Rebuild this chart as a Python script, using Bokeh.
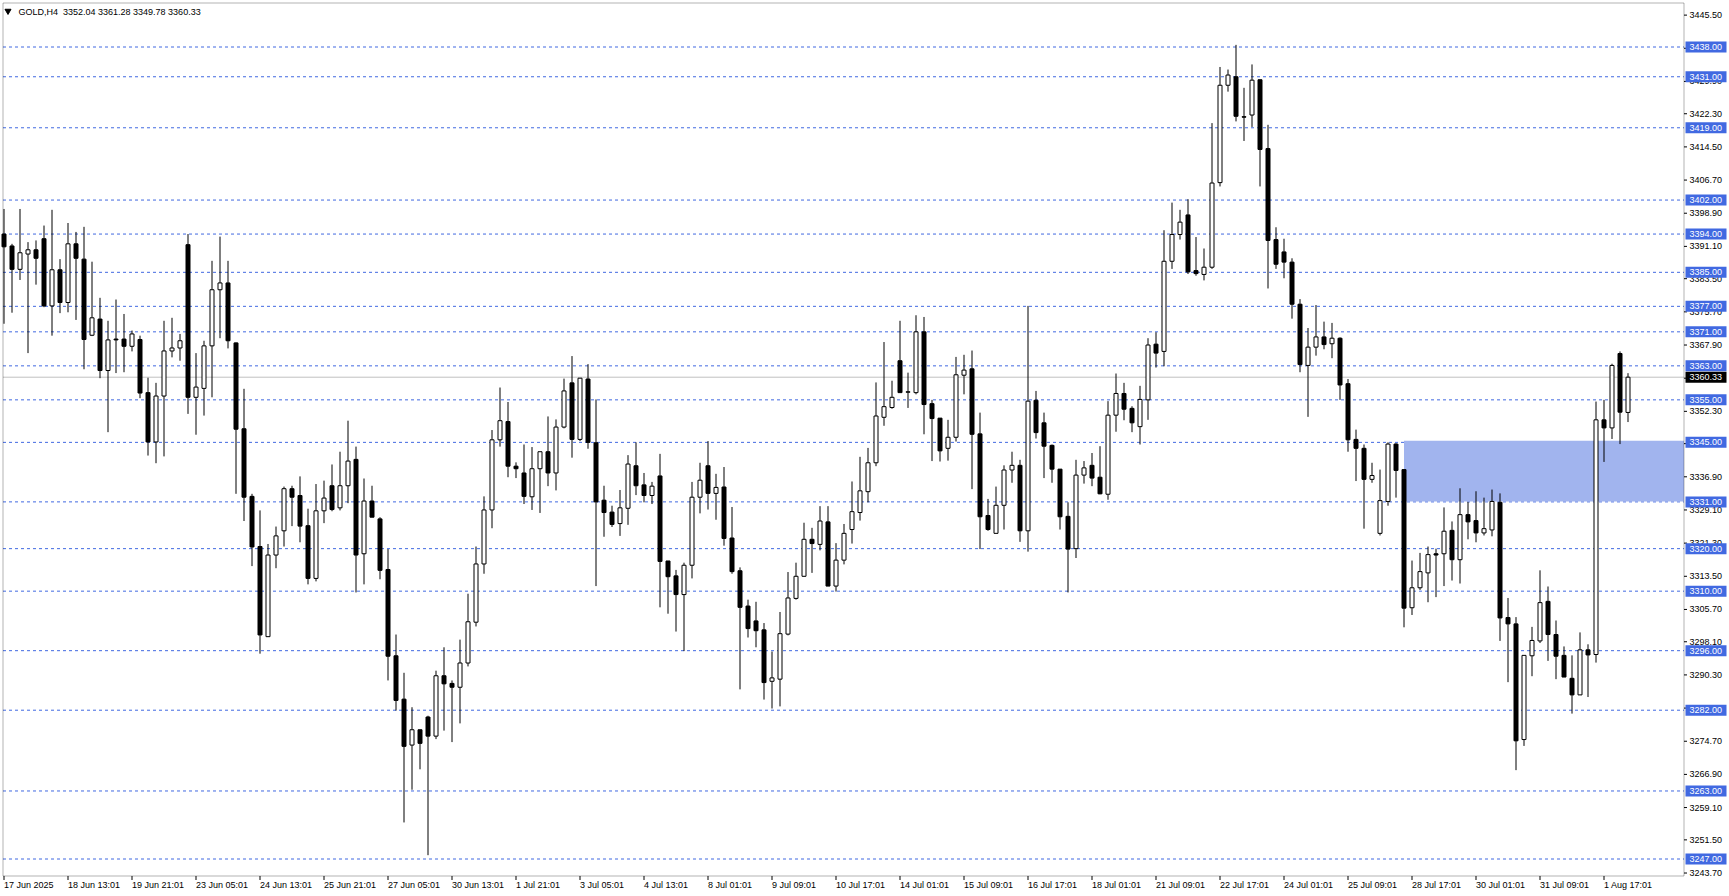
from bokeh.plotting import figure
from bokeh.models import Range1d, BoxAnnotation
from bokeh.core.properties import value
from bokeh.embed import file_html
from bokeh.resources import INLINE

# ---------------- data (GOLD, H4) ----------------
opens = [3394.0, 3391.2, 3385.7, 3389.3, 3390.3, 3392.9, 3377.1, 3385.6, 3377.9, 3391.7,
         3388.1, 3370.2, 3374.0, 3361.9, 3369.3, 3369.3, 3367.6, 3369.2, 3356.7, 3345.1,
         3355.9, 3366.5, 3367.2, 3391.5, 3355.6, 3357.7, 3367.7, 3380.9, 3382.5, 3368.4,
         3348.2, 3332.3, 3320.5, 3299.3, 3318.5, 3324.2, 3334.1, 3332.5, 3325.4, 3313.0,
         3328.9, 3334.8, 3329.6, 3334.8, 3341.0, 3318.8, 3331.2, 3327.0, 3315.1, 3294.8,
         3284.6, 3273.8, 3277.4, 3280.4, 3275.9, 3290.1, 3288.3, 3287.4, 3293.1, 3302.7,
         3316.4, 3329.1, 3345.6, 3349.9, 3339.4, 3337.8, 3332.2, 3338.8, 3342.8, 3337.8,
         3348.6, 3359.0, 3345.7, 3359.9, 3344.9, 3331.4, 3328.6, 3325.9, 3329.5, 3339.5,
         3335.0, 3332.5, 3337.1, 3317.1, 3313.6, 3309.2, 3316.1, 3332.1, 3339.5, 3333.0,
         3334.5, 3322.5, 3314.8, 3306.5, 3303.0, 3300.9, 3288.8, 3289.3, 3299.9, 3308.3,
         3313.5, 3322.2, 3321.0, 3326.3, 3311.2, 3317.3, 3324.5, 3328.5, 3333.4, 3340.2,
         3350.9, 3353.2, 3364.2, 3356.8, 3356.7, 3371.0, 3354.1, 3350.7, 3343.6, 3346.2,
         3360.8, 3362.3, 3347.0, 3327.8, 3323.6, 3330.2, 3338.5, 3339.6, 3324.2, 3354.9,
         3349.6, 3344.3, 3338.7, 3327.6, 3320.0, 3337.3, 3339.6, 3336.8, 3332.8, 3351.4,
         3356.5, 3353.0, 3348.7, 3355.0, 3368.1, 3366.4, 3387.6, 3393.9, 3398.5, 3385.4,
         3384.5, 3386.2, 3406.1, 3429.0, 3431.0, 3421.6, 3422.0, 3430.3, 3414.1, 3392.7,
         3389.8, 3387.4, 3377.5, 3363.1, 3367.4, 3369.8, 3368.2, 3369.5, 3358.8, 3345.7,
         3343.6, 3336.3, 3323.6, 3331.1, 3344.6, 3338.6, 3306.1, 3310.8, 3314.3, 3318.8,
         3318.8, 3324.3, 3317.4, 3328.0, 3326.6, 3323.7, 3324.4, 3330.9, 3303.8, 3302.3,
         3275.1, 3294.8, 3298.3, 3307.6, 3299.8, 3294.9, 3289.5, 3285.6, 3296.2, 3295.1,
         3350.3, 3348.4, 3365.9, 3352.04]
highs = [3399.9, 3391.7, 3399.9, 3392.1, 3392.5, 3396.0, 3399.7, 3388.1, 3396.6, 3394.5,
         3395.7, 3387.5, 3379.0, 3373.6, 3378.6, 3375.2, 3371.3, 3370.1, 3360.2, 3359.0,
         3373.6, 3374.3, 3370.5, 3394.0, 3366.0, 3368.9, 3387.7, 3393.4, 3387.7, 3368.5,
         3357.6, 3332.9, 3329.0, 3321.1, 3325.2, 3334.6, 3334.8, 3337.0, 3329.4, 3335.2,
         3336.0, 3339.8, 3342.8, 3350.1, 3344.0, 3336.5, 3334.8, 3327.4, 3319.9, 3299.8,
         3290.8, 3282.7, 3277.4, 3280.7, 3291.3, 3296.8, 3289.0, 3298.6, 3309.4, 3320.5,
         3332.3, 3347.9, 3357.9, 3354.5, 3340.3, 3344.5, 3343.9, 3342.8, 3351.1, 3350.4,
         3360.0, 3365.3, 3360.1, 3363.4, 3355.1, 3334.8, 3330.1, 3333.8, 3342.0, 3345.0,
         3337.8, 3335.7, 3342.3, 3317.1, 3315.0, 3316.7, 3335.7, 3340.2, 3345.3, 3337.6,
         3339.2, 3329.8, 3315.6, 3308.0, 3307.5, 3302.5, 3295.8, 3305.1, 3314.5, 3316.7,
         3326.1, 3324.9, 3330.0, 3330.0, 3321.3, 3325.8, 3335.8, 3341.6, 3343.7, 3359.1,
         3368.6, 3359.5, 3373.6, 3361.4, 3374.9, 3374.5, 3355.0, 3350.7, 3350.3, 3365.1,
         3365.6, 3366.6, 3352.0, 3331.7, 3334.6, 3339.6, 3342.8, 3340.9, 3377.1, 3357.1,
         3352.0, 3344.5, 3338.7, 3330.9, 3340.9, 3340.6, 3342.5, 3344.1, 3354.7, 3361.2,
         3359.0, 3353.5, 3358.3, 3369.5, 3370.9, 3394.9, 3401.4, 3399.7, 3402.2, 3393.3,
         3390.6, 3420.1, 3433.3, 3432.7, 3438.5, 3428.4, 3433.9, 3430.3, 3419.7, 3395.6,
         3392.9, 3388.3, 3378.7, 3371.9, 3377.3, 3373.4, 3373.1, 3369.7, 3359.9, 3348.0,
         3344.5, 3340.2, 3338.6, 3345.0, 3344.8, 3338.6, 3317.2, 3319.0, 3320.5, 3320.0,
         3329.7, 3326.4, 3334.2, 3331.0, 3333.5, 3332.0, 3333.9, 3333.0, 3308.4, 3303.9,
         3294.9, 3301.6, 3314.9, 3311.1, 3303.1, 3297.0, 3294.9, 3300.3, 3297.5, 3354.6,
         3355.0, 3363.5, 3366.4, 3361.28]
lows = [3372.9, 3375.5, 3383.2, 3366.0, 3382.1, 3376.8, 3370.1, 3375.4, 3375.6, 3373.8,
        3362.2, 3370.0, 3360.1, 3347.4, 3361.3, 3361.5, 3366.4, 3355.4, 3341.9, 3340.1,
        3341.7, 3365.0, 3364.2, 3351.7, 3346.8, 3351.3, 3355.6, 3369.5, 3367.1, 3332.9,
        3326.5, 3315.9, 3295.3, 3299.3, 3315.4, 3320.5, 3325.3, 3321.5, 3311.6, 3312.3,
        3326.0, 3328.8, 3329.0, 3330.7, 3309.7, 3311.6, 3327.4, 3312.8, 3289.0, 3281.9,
        3255.6, 3263.3, 3268.1, 3247.9, 3275.2, 3277.2, 3274.5, 3278.9, 3292.3, 3301.7,
        3314.1, 3324.8, 3344.0, 3336.8, 3336.6, 3330.5, 3329.1, 3328.4, 3334.7, 3333.7,
        3348.3, 3341.4, 3345.3, 3343.5, 3311.2, 3322.8, 3325.1, 3323.0, 3325.6, 3332.6,
        3330.9, 3330.5, 3306.2, 3304.7, 3300.5, 3295.9, 3313.0, 3328.3, 3329.2, 3326.8,
        3320.7, 3314.1, 3286.9, 3299.1, 3296.8, 3284.5, 3282.4, 3282.9, 3299.6, 3308.0,
        3313.4, 3314.3, 3319.6, 3311.2, 3309.9, 3316.3, 3321.2, 3326.6, 3330.9, 3339.4,
        3348.9, 3352.9, 3356.7, 3353.1, 3356.3, 3346.9, 3340.6, 3340.5, 3340.7, 3345.2,
        3356.3, 3334.0, 3319.9, 3324.2, 3323.6, 3324.5, 3335.5, 3321.6, 3319.3, 3345.9,
        3336.6, 3335.5, 3324.5, 3309.7, 3317.8, 3335.3, 3334.7, 3332.8, 3331.5, 3347.5,
        3350.2, 3347.4, 3344.5, 3350.3, 3362.6, 3362.9, 3385.8, 3392.7, 3384.6, 3384.2,
        3383.1, 3385.8, 3405.2, 3427.5, 3420.5, 3415.9, 3419.2, 3405.2, 3381.2, 3385.8,
        3383.6, 3374.1, 3361.5, 3351.0, 3365.4, 3366.9, 3364.8, 3355.0, 3342.8, 3335.9,
        3324.7, 3335.5, 3323.1, 3330.1, 3332.0, 3301.5, 3304.4, 3310.3, 3307.4, 3308.6,
        3311.2, 3312.5, 3311.8, 3322.2, 3321.5, 3323.1, 3322.9, 3298.3, 3288.6, 3267.9,
        3273.6, 3290.0, 3297.8, 3293.6, 3289.3, 3289.8, 3281.2, 3285.6, 3285.1, 3293.2,
        3340.4, 3345.8, 3344.6, 3349.78]
closes = [3391.0, 3385.7, 3389.6, 3390.3, 3388.3, 3377.1, 3385.6, 3377.9, 3391.7, 3388.3,
          3369.2, 3374.3, 3361.9, 3369.1, 3369.1, 3367.6, 3370.5, 3356.6, 3345.1, 3355.9,
          3366.5, 3367.2, 3368.9, 3355.6, 3358.0, 3367.7, 3380.9, 3382.5, 3368.9, 3348.1,
          3332.1, 3320.4, 3299.7, 3318.5, 3323.0, 3334.1, 3332.1, 3325.3, 3313.0, 3328.9,
          3331.9, 3329.2, 3334.8, 3340.6, 3318.5, 3331.2, 3327.4, 3314.9, 3294.7, 3284.3,
          3273.5, 3277.4, 3274.2, 3275.9, 3290.1, 3288.2, 3287.4, 3293.1, 3302.8, 3316.4,
          3329.1, 3345.6, 3350.1, 3339.4, 3338.8, 3332.3, 3338.8, 3342.8, 3337.8, 3348.6,
          3357.1, 3345.7, 3360.1, 3345.0, 3331.0, 3328.5, 3325.7, 3329.6, 3339.9, 3334.8,
          3332.5, 3334.7, 3317.0, 3313.4, 3309.2, 3316.1, 3332.1, 3336.1, 3333.0, 3334.4,
          3322.4, 3314.6, 3306.2, 3301.2, 3300.7, 3288.5, 3289.6, 3300.0, 3308.4, 3313.5,
          3322.2, 3321.2, 3326.5, 3311.2, 3317.3, 3323.6, 3328.7, 3333.6, 3340.2, 3351.2,
          3353.4, 3355.6, 3356.7, 3356.9, 3371.0, 3353.9, 3350.6, 3343.0, 3346.2, 3360.9,
          3362.0, 3346.9, 3327.5, 3324.5, 3330.2, 3338.5, 3339.6, 3324.2, 3354.7, 3347.3,
          3344.1, 3338.7, 3327.5, 3319.9, 3337.3, 3339.0, 3336.6, 3332.9, 3351.4, 3356.5,
          3352.8, 3349.6, 3355.1, 3367.9, 3366.0, 3387.6, 3393.9, 3396.8, 3385.1, 3384.7,
          3386.2, 3406.0, 3429.0, 3431.4, 3421.7, 3421.5, 3430.2, 3413.9, 3392.5, 3386.9,
          3387.4, 3377.5, 3363.3, 3367.4, 3369.8, 3368.0, 3369.5, 3358.5, 3345.6, 3343.6,
          3336.3, 3337.2, 3331.3, 3344.6, 3338.4, 3306.0, 3310.8, 3314.6, 3318.6, 3318.5,
          3324.1, 3317.4, 3328.0, 3326.3, 3323.7, 3324.7, 3331.1, 3303.7, 3302.3, 3274.8,
          3294.9, 3298.4, 3307.3, 3299.8, 3294.7, 3289.8, 3285.6, 3296.2, 3295.0, 3350.3,
          3348.4, 3363.1, 3352.1, 3360.33]

date_labels = ["17 Jun 2025", "18 Jun 13:01", "19 Jun 21:01", "23 Jun 05:01", "24 Jun 13:01",
               "25 Jun 21:01", "27 Jun 05:01", "30 Jun 13:01", "1 Jul 21:01", "3 Jul 05:01",
               "4 Jul 13:01", "8 Jul 01:01", "9 Jul 09:01", "10 Jul 17:01", "14 Jul 01:01",
               "15 Jul 09:01", "16 Jul 17:01", "18 Jul 01:01", "21 Jul 09:01", "22 Jul 17:01",
               "24 Jul 01:01", "25 Jul 09:01", "28 Jul 17:01", "30 Jul 01:01", "31 Jul 09:01",
               "1 Aug 17:01"]
date_label_bars = [0, 8, 16, 24, 32, 40, 48, 56, 64, 72, 80, 88, 96, 104, 112, 120, 128,
                   136, 144, 152, 160, 168, 176, 184, 192, 200]

price_ticks = [3445.50, 3437.70, 3429.90, 3422.30, 3414.50, 3406.70, 3398.90, 3391.10,
               3383.50, 3375.70, 3367.90, 3360.10, 3352.30, 3344.70, 3336.90, 3329.10,
               3321.30, 3313.50, 3305.70, 3298.10, 3290.30, 3282.50, 3274.70, 3266.90,
               3259.10, 3251.50, 3243.70]

level_prices = [3438.0, 3431.0, 3419.0, 3402.0, 3394.0, 3385.0, 3377.0, 3371.0, 3363.0,
                3355.0, 3345.0, 3331.0, 3320.0, 3310.0, 3296.0, 3282.0, 3263.0, 3247.0]

zone_top = 3345.4
zone_bottom = 3331.1
zone_start_bar = 175
bid_price = 3360.33
header_text = "GOLD,H4\u00a0 3352.04 3361.28 3349.78 3360.33"

# ---------------- layout (pixel geometry of the canvas = plot frame) ----------------
W, H = 1729, 896
PPX = 8.0                        # pixels per bar
XR0 = -3.5 / PPX                 # bar 0 centred 3.5 px from the left edge
XR1 = XR0 + W / PPX
CHART_LEFT = XR0 + 2.5 / PPX
AXIS_X = XR0 + 1683.5 / PPX      # price-scale line
REF_PRICE, REF_PX = 3438.0, 46.5  # a level and its pixel row
PPY = 812.0 / 191.0              # pixels per price unit
YR1 = REF_PRICE + REF_PX / PPY
YR0 = YR1 - H / PPY
PRICE_TOP = YR1 - 2.5 / PPY
PRICE_BOTTOM = YR1 - 875.5 / PPY

LEVEL_BLUE = "#4169E1"
FONT = "Liberation Sans"
FS = "9px"

p = figure(width=W, height=H, x_range=Range1d(XR0, XR1), y_range=Range1d(YR0, YR1),
           output_backend="svg", toolbar_location=None,
           x_axis_location=None, y_axis_location=None,
           min_border_left=0, min_border_right=0, min_border_top=0, min_border_bottom=0,
           background_fill_color="white", border_fill_color="white",
           outline_line_color=None)
p.grid.visible = False

# zone rectangle (behind everything)
p.add_layout(BoxAnnotation(left=zone_start_bar, right=AXIS_X, top=zone_top, bottom=zone_bottom,
                           fill_color="#A1B4EE", fill_alpha=1.0, line_color=None,
                           level="underlay"))

# bid line
p.segment(x0=[CHART_LEFT], x1=[AXIS_X], y0=[bid_price], y1=[bid_price],
          line_color="#C0C0C0", line_width=1, level="underlay")

# horizontal levels
n_lv = len(level_prices)
p.segment(x0=[CHART_LEFT] * n_lv, x1=[AXIS_X] * n_lv, y0=level_prices, y1=level_prices,
          line_color=LEVEL_BLUE, line_width=1, line_dash="3 3", level="underlay")

# candles
xs = list(range(len(opens)))
tops = [max(o, c) for o, c in zip(opens, closes)]
bottoms = [min(o, c) for o, c in zip(opens, closes)]
fills = ["white" if c >= o else "black" for o, c in zip(opens, closes)]
p.segment(x0=xs, y0=lows, x1=xs, y1=highs, line_color="black", line_width=1)
p.vbar(x=xs, width=0.5, top=tops, bottom=bottoms, fill_color=fills,
       line_color="black", line_width=1)

# chart frame border (left, top, bottom, and price-scale line on the right)
p.add_layout(BoxAnnotation(left=CHART_LEFT, right=AXIS_X, top=PRICE_TOP, bottom=PRICE_BOTTOM,
                           fill_color=None, line_color="black", line_width=1))

# price scale: ticks and labels
n_pt = len(price_ticks)
p.segment(x0=[AXIS_X] * n_pt, x1=[AXIS_X + 3.0 / PPX] * n_pt, y0=price_ticks, y1=price_ticks,
          line_color="black", line_width=1)
p.text(x=[AXIS_X + 5.5 / PPX] * n_pt, y=price_ticks, text=[f"{t:.2f}" for t in price_ticks],
       text_align="left", text_baseline="middle", text_font=value(FONT),
       text_font_size=value(FS), text_color="black")

# time scale: ticks and left-aligned labels
n_dl = len(date_label_bars)
p.segment(x0=date_label_bars, x1=date_label_bars, y0=[PRICE_BOTTOM] * n_dl,
          y1=[PRICE_BOTTOM - 4.0 / PPY] * n_dl, line_color="black", line_width=1)
p.text(x=date_label_bars, y=[PRICE_BOTTOM - 3.5 / PPY] * n_dl,
       text=date_labels, text_align="left", text_baseline="top",
       text_font=value(FONT), text_font_size=value(FS), text_color="black")

# price labels of the levels on the scale
lab_cx = AXIS_X + 22.0 / PPX
p.rect(x=[lab_cx] * n_lv, y=level_prices, width=41, height=11,
       width_units="screen", height_units="screen",
       fill_color=LEVEL_BLUE, line_color=None, level="overlay")
p.text(x=[AXIS_X + 5.5 / PPX] * n_lv, y=level_prices, text=[f"{v:.2f}" for v in level_prices],
       text_align="left", text_baseline="middle", text_font=value(FONT),
       text_font_size=value(FS), text_color="white", level="overlay")

# bid label
p.rect(x=[lab_cx], y=[bid_price], width=41, height=11, width_units="screen",
       height_units="screen", fill_color="black", line_color=None, level="overlay")
p.text(x=[AXIS_X + 5.5 / PPX], y=[bid_price], text=[f"{bid_price:.2f}"],
       text_align="left", text_baseline="middle", text_font=value(FONT),
       text_font_size=value(FS), text_color="white", level="overlay")

# header
p.scatter(x=[CHART_LEFT + 5.0 / PPX], y=[PRICE_TOP - 8.0 / PPY], marker="inverted_triangle",
          size=6, fill_color="black", line_color="black")
p.text(x=[CHART_LEFT + 15.5 / PPX], y=[PRICE_TOP - 3.5 / PPY], text=[header_text],
       text_align="left", text_baseline="top", text_font=value(FONT),
       text_font_size=value(FS), text_color="black")

open("out.html", "w").write(file_html(p, INLINE))
